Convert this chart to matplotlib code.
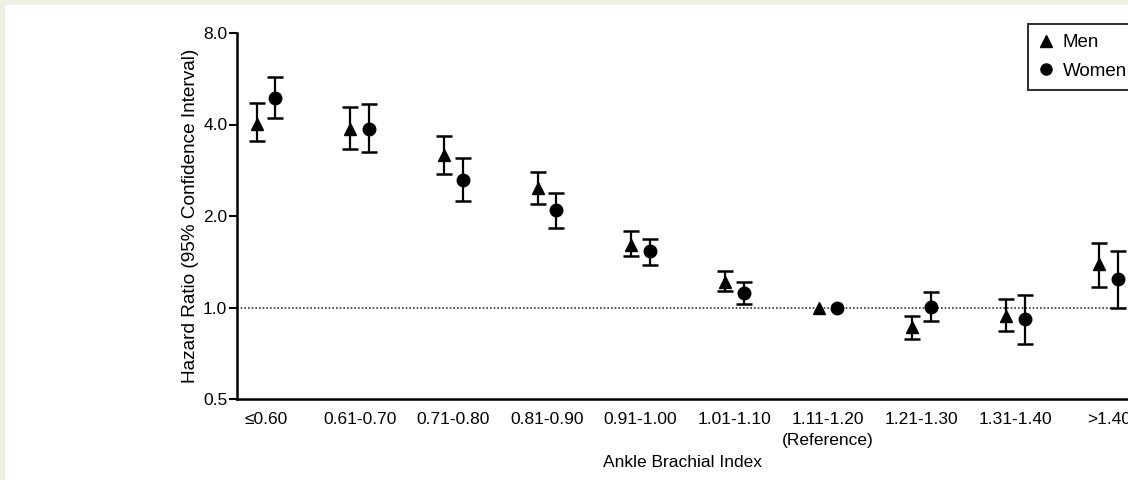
import numpy as np
import matplotlib
matplotlib.use("Agg")
import matplotlib.pyplot as plt
from matplotlib.lines import Line2D
from matplotlib.patches import Rectangle

plt.rcParams['font.family'] = ['Liberation Sans', 'DejaVu Sans']

# Ankle brachial index categories
categories = ['≤0.60', '0.61-0.70', '0.71-0.80', '0.81-0.90', '0.91-1.00',
              '1.01-1.10', '1.11-1.20\n(Reference)', '1.21-1.30', '1.31-1.40', '>1.40']

# Hazard ratios with 95% CI
men_hr = [4.03, 3.87, 3.17, 2.47, 1.61, 1.21, 1.00, 0.865, 0.94, 1.39]
men_lo = [3.52, 3.31, 2.74, 2.19, 1.48, 1.13, 1.00, 0.786, 0.835, 1.17]
men_hi = [4.72, 4.56, 3.66, 2.79, 1.78, 1.32, 1.00, 0.94, 1.07, 1.63]

women_hr = [4.88, 3.87, 2.63, 2.09, 1.53, 1.12, 1.00, 1.005, 0.915, 1.24]
women_lo = [4.21, 3.25, 2.24, 1.83, 1.38, 1.025, 1.00, 0.905, 0.757, 1.00]
women_hi = [5.74, 4.66, 3.10, 2.38, 1.68, 1.21, 1.00, 1.125, 1.10, 1.53]

y_ticks = [0.5, 1.0, 2.0, 4.0, 8.0]
y_ticklabels = ['0.5', '1.0', '2.0', '4.0', '8.0']

fig = plt.figure(figsize=(11.28, 4.8), dpi=100)
fig.patch.set_facecolor('#efefe6')
fig.patches.append(Rectangle((5 / 1128, 0), 1, 1 - 5 / 480, transform=fig.transFigure,
                             facecolor='white', edgecolor='none', zorder=-10))

ax = fig.add_axes([237 / 1128, 81 / 480, 928 / 1128, 366 / 480])
ax.set_facecolor('none')

x = np.arange(len(categories))
offset = 0.1


def draw_series(xpos, hr, lo, hi, marker):
    hr = np.array(hr)
    lo = np.array(lo)
    hi = np.array(hi)
    has_ci = hi > lo
    ax.errorbar(xpos[has_ci], hr[has_ci],
                yerr=[hr[has_ci] - lo[has_ci], hi[has_ci] - hr[has_ci]],
                fmt='none', ecolor='black', elinewidth=1.6, capsize=6, capthick=1.8, zorder=2)
    ax.plot(xpos, hr, linestyle='none', marker=marker, markersize=9,
            color='black', zorder=3)


ax.axhline(1.0, color='#333333', linestyle=(0, (1, 1.2)), linewidth=1.2, zorder=1)
draw_series(x - offset, men_hr, men_lo, men_hi, '^')
draw_series(x + offset, women_hr, women_lo, women_hi, 'o')

ax.set_yscale('log', base=2)
ax.set_ylim(0.5, 8.0)
ax.set_yticks(y_ticks)
ax.set_yticklabels(y_ticklabels)
ax.yaxis.set_minor_locator(matplotlib.ticker.NullLocator())
ax.set_xlim(-0.31, 9.6)
ax.set_xticks(x)
ax.set_xticklabels(categories)
for lbl in ax.get_xticklabels():
    lbl.set_linespacing(1.55)

ax.tick_params(axis='y', length=6, width=1.5, pad=1, labelsize=12.5)
ax.tick_params(axis='x', length=0, pad=9, labelsize=12.5)

for side in ['top', 'right']:
    ax.spines[side].set_visible(False)
for side in ['left', 'bottom']:
    ax.spines[side].set_linewidth(1.8)

ax.set_ylabel('Hazard Ratio (95% Confidence Interval)', fontsize=13.7, labelpad=3)
ax.set_xlabel('Ankle Brachial Index', fontsize=12.5, labelpad=5, x=0.48)

handles = [Line2D([], [], linestyle='none', marker='^', markersize=8, color='black'),
           Line2D([], [], linestyle='none', marker='o', markersize=8, color='black')]
leg = fig.legend(handles, ['Men', 'Women'], loc='upper left',
                 bbox_to_anchor=(1028 / 1128, 1 - 24 / 480), fontsize=13.5,
                 frameon=True, fancybox=False, edgecolor='black',
                 handlelength=0.8, handletextpad=0.5, labelspacing=0.6,
                 borderpad=0.55, borderaxespad=0)
leg.get_frame().set_linewidth(1.5)

fig.savefig('out.png', dpi=100, facecolor=fig.get_facecolor())
